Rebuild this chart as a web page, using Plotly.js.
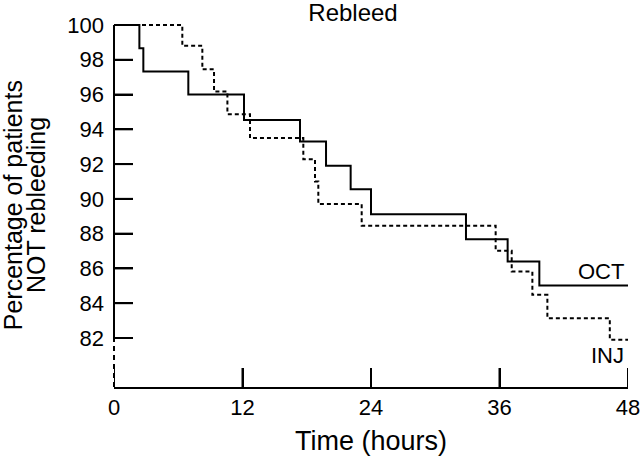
<!DOCTYPE html>
<html>
<head>
<meta charset="utf-8">
<script src="https://cdn.plot.ly/plotly-3.0.1.min.js"></script>
<style>html,body{margin:0;padding:0;background:#fff;}#chart{width:640px;height:457px;}</style>
</head>
<body>
<div id="chart"></div>
<script>
// Time (hours) at which each level begins, and the percentage not rebleeding
const octTimes = [0, 2.37, 2.74, 6.94, 12.14, 17.37, 19.8, 22.1, 24.0, 32.87, 36.76, 39.72, 48];
const octValues = [100, 98.66, 97.32, 96.0, 94.54, 93.3, 91.9, 90.56, 89.12, 87.68, 86.4, 85.02, 85.02];
const injTimes = [0, 6.38, 8.25, 9.34, 10.59, 12.7, 17.68, 18.77, 19.08, 23.13, 35.64, 37.14, 39.07, 40.47, 46.3, 48];
const injValues = [100, 98.8, 97.45, 96.17, 94.87, 93.5, 92.28, 91.0, 89.7, 88.45, 87.01, 85.82, 84.48, 83.14, 81.9, 81.9];
const xTicks = [0, 12, 24, 36, 48];
const yTicks = [82, 84, 86, 88, 90, 92, 94, 96, 98, 100];
const seriesNames = ["OCT", "INJ"];

const FONT = "Liberation Sans, Arial, Helvetica, sans-serif";
const yMin = 79.18, yMax = 100.115;
const M = {l: 114, r: 12, t: 23, b: 70};
const W = 640, H = 457;
const plotW = W - M.l - M.r, plotH = H - M.t - M.b;
const TICKLEN = 19;

const traces = [
  {x: octTimes, y: octValues, name: seriesNames[0], mode: "lines", line: {shape: "hv", color: "#000", width: 2}, showlegend: false},
  {x: injTimes, y: injValues, name: seriesNames[1], mode: "lines", line: {shape: "hv", color: "#000", width: 2, dash: "4px,3px"}, showlegend: false}
];

// inward tick marks at the tick values
const tickShapes = [];
xTicks.forEach(v => tickShapes.push({type: "line", layer: "above", xref: "x", yref: "paper", x0: v, x1: v, y0: 0, y1: TICKLEN / plotH, line: {color: "#000", width: 2}}));
yTicks.forEach(v => tickShapes.push({type: "line", layer: "above", yref: "y", xref: "paper", y0: v, y1: v, x0: 0, x1: TICKLEN / plotW, line: {color: "#000", width: 2}}));

const layout = {
  width: W, height: H,
  margin: M,
  showlegend: false,
  paper_bgcolor: "#fff", plot_bgcolor: "#fff",
  font: {family: FONT, color: "#000", size: 22},
  title: {text: "Rebleed", font: {size: 24, family: FONT, color: "#000"}, x: 353/640, xanchor: "center", xref: "container", y: 1 - 13/457, yanchor: "middle", yref: "container"},
  xaxis: {
    range: [0, 48], tickmode: "array", tickvals: xTicks, ticktext: xTicks.map(String),
    ticks: "inside", ticklen: TICKLEN, tickwidth: 2, tickcolor: "#000",
    showline: true, linewidth: 2, linecolor: "#000",
    ticklabeloverflow: "allow",
    showgrid: false, zeroline: false,
    tickfont: {size: 22, family: FONT, color: "#000"},
    title: {text: "Time (hours)", font: {size: 27, family: FONT, color: "#000"}, standoff: 12}
  },
  yaxis: {
    range: [yMin, yMax], tickmode: "array", tickvals: yTicks, ticktext: yTicks.map(String),
    ticks: "inside", ticklen: TICKLEN, tickwidth: 2, tickcolor: "#000",
    showline: false, showgrid: false, zeroline: false,
    ticklabelstandoff: 9,
    tickfont: {size: 22, family: FONT, color: "#000"}
  },
  shapes: [
    {type: "line", layer: "above", xref: "paper", yref: "y", x0: 0, x1: 0, y0: 82, y1: 100, line: {color: "#000", width: 2}},
    {type: "line", layer: "above", xref: "paper", yref: "y", x0: 0, x1: 0, y0: yMin, y1: 82, line: {color: "#000", width: 2, dash: "5px,4px"}}
  ].concat(tickShapes),
  annotations: [
    {text: "Percentage of patients", xref: "paper", yref: "paper", x: -0.196, y: 0.5, xanchor: "center", yanchor: "middle", textangle: -90, showarrow: false, font: {size: 25, family: FONT, color: "#000"}},
    {text: "NOT rebleeding", xref: "paper", yref: "paper", x: -0.1518, y: 0.5, xanchor: "center", yanchor: "middle", textangle: -90, showarrow: false, font: {size: 25, family: FONT, color: "#000"}},
    {text: seriesNames[0], xref: "x", yref: "y", x: 47.8, y: 85.8, xanchor: "right", yanchor: "middle", showarrow: false, font: {size: 22, family: FONT, color: "#000"}},
    {text: seriesNames[1], xref: "x", yref: "y", x: 47.8, y: 81.02, xanchor: "right", yanchor: "middle", showarrow: false, font: {size: 22, family: FONT, color: "#000"}}
  ]
};

Plotly.newPlot("chart", traces, layout, {displayModeBar: false, staticPlot: true});
</script>
</body>
</html>
